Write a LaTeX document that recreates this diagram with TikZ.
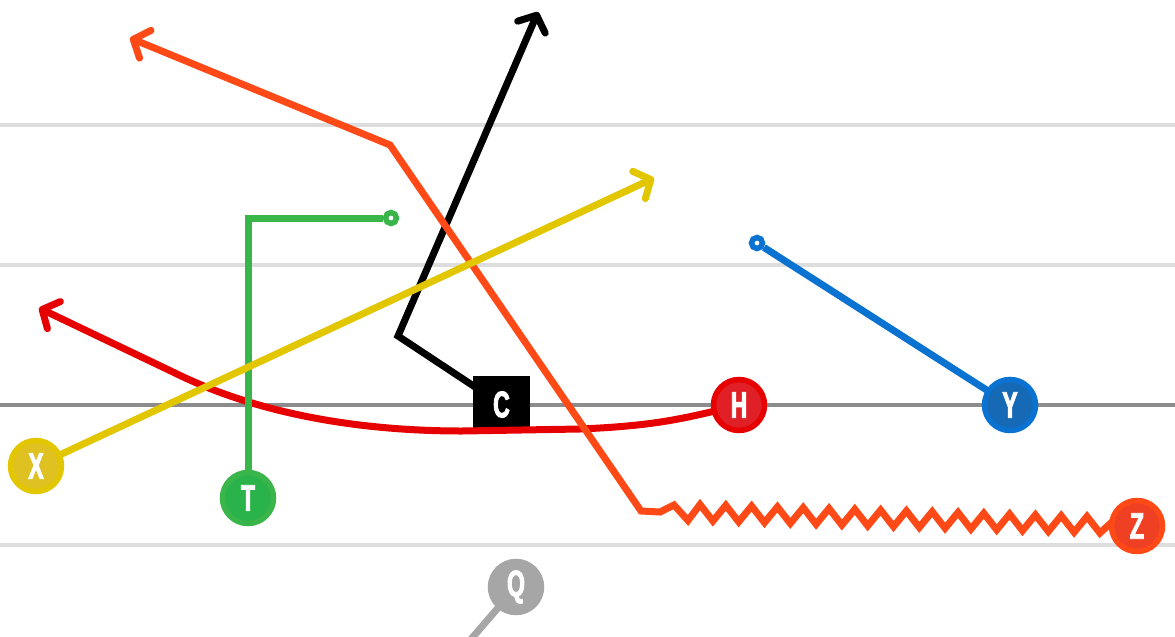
\documentclass[tikz,border=0pt]{standalone}
\usepackage{fontspec}
\setmainfont{Liberation Sans}
\newfontfamily\lblfont[FakeStretch=0.62,FakeBold=2.5]{Liberation Sans}
\usetikzlibrary{arrows.meta}
\definecolor{cRed}{HTML}{E60000}
\definecolor{cRedIn}{HTML}{E01F27}
\definecolor{cBlue}{HTML}{0A72D0}
\definecolor{cBlueIn}{HTML}{1569B5}
\definecolor{cOrange}{HTML}{FF4A17}
\definecolor{cOrangeIn}{HTML}{F04023}
\definecolor{cYellow}{HTML}{E2C700}
\definecolor{cYellowIn}{HTML}{DFC222}
\definecolor{cGreen}{HTML}{39B54A}
\definecolor{cGreenIn}{HTML}{2AB34A}
\definecolor{cGrey}{HTML}{A6A6A6}
\definecolor{cLine}{HTML}{DDDDDD}
\definecolor{cScrim}{HTML}{8C8C8C}
\tikzset{
  x=1pt,y=-1pt,
  yard/.style={draw=cLine,line width=4pt},
  scrim/.style={draw=cScrim,line width=4pt},
  route/.style={line width=7pt,line join=miter},
  tipped/.style={-{Straight Barb[length=13pt,width=30pt,round,line width=7pt]}},
  player/.style n args={2}{circle,draw=#1,fill=#2,line width=5.5pt,minimum size=51pt,inner sep=0pt,text=white},
  center box/.style={rectangle,fill=black,minimum size=57pt,inner sep=0pt,text=white},
  endring/.style={circle,draw=#1,fill=white,line width=5.5pt,minimum size=11pt,inner sep=0pt},
}
\newcommand{\lbl}[1]{{\lblfont\fontsize{37pt}{37pt}\selectfont\bfseries #1}}
\begin{document}
\begin{tikzpicture}
\useasboundingbox (0,0) rectangle (1175,637);
\clip (0,0) rectangle (1175,637);
\coordinate (L1a) at (0,124.5); \coordinate (L1b) at (1175,124.5);
\coordinate (L2a) at (0,264.5); \coordinate (L2b) at (1175,264.5);
\coordinate (L3a) at (0,544.5); \coordinate (L3b) at (1175,544.5);
\coordinate (Sa) at (0,404.5); \coordinate (Sb) at (1175,404.5);
\draw[yard] (L1a) -- (L1b);
\draw[yard] (L2a) -- (L2b);
\draw[yard] (L3a) -- (L3b);
\draw[scrim] (Sa) -- (Sb);

\coordinate (Hc) at (739,405);
\coordinate (Yc) at (1010,405);
\coordinate (Zc) at (1137,526);
\coordinate (Xc) at (36,466);
\coordinate (Tc) at (248,498);
\coordinate (Qc) at (516,587);
\coordinate (Cc) at (501.5,404.5);

\coordinate (Qend) at (466,645);
\draw[route,cGrey] (Qc) -- (Qend);

\node[endring=cBlue] (Yend) at (757,243) {};
\draw[route,cBlue] (Yc) -- (Yend);

\coordinate (Ccorner) at (398,336);
\coordinate (Cend) at (538,12);
\draw[route,black,tipped] (Cc) -- (Ccorner) -- (Cend);

\node[center box] (C) at (Cc) {\lbl{C}};

\coordinate (Rend) at (39,308);
\draw[route,cRed,tipped] (Hc) .. controls (680,420) and (650,426) .. (580,429)
  -- (462,431) .. controls (400,431) and (280,425) .. (175,373) -- (Rend);

\coordinate (Tcorner) at (248,218);
\node[endring=cGreen] (Tend) at (391,218) {};
\draw[route,cGreen] (Tc) -- (Tcorner) -- (Tend);

\coordinate (Oa) at (641,511);
\coordinate (Ob) at (390,145);
\coordinate (Oend) at (130,38);
\draw[route,cOrange,tipped] (Zc) -- (1112,522)
  \foreach \k in {15,14,...,0}{ -- ({700+25.8*\k+12.9},{521+0.8*\k}) -- ({700+25.8*\k},{504.5+0.8*\k}) }
  -- (688,520.5) -- (674,505) -- (660,512) -- (Oa) -- (Ob) -- (Oend);

\coordinate (Xend) at (654,178);
\draw[route,cYellow,tipped] (Xc) -- (Xend);

\node[player={cRed}{cRedIn}] (H) at (Hc) {\lbl{H}};
\node[player={cBlue}{cBlueIn}] (Y) at (Yc) {\lbl{Y}};
\node[player={cOrange}{cOrangeIn}] (Z) at (Zc) {\lbl{Z}};
\node[player={cYellow}{cYellowIn}] (X) at (Xc) {\lbl{X}};
\node[player={cGreen}{cGreenIn}] (T) at (Tc) {\lbl{T}};
\node[player={cGrey}{cGrey}] (Q) at (Qc) {\lbl{Q}};
\end{tikzpicture}
\end{document}
